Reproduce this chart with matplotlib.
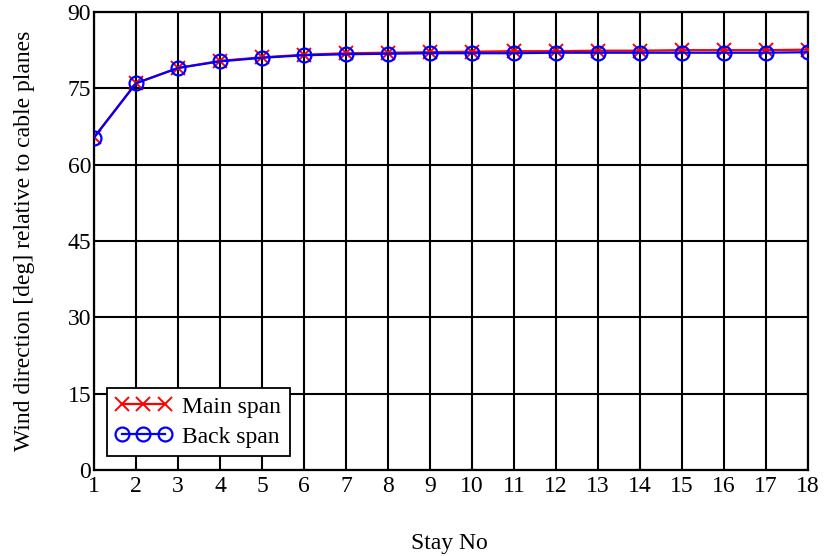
import matplotlib
matplotlib.use("Agg")
import matplotlib.pyplot as plt

stay_no = list(range(1, 19))
main_span = [65.4, 76.0, 79.0, 80.4, 81.1, 81.6, 81.9, 82.0, 82.1,
             82.2, 82.3, 82.3, 82.4, 82.4, 82.5, 82.5, 82.5, 82.6]
back_span = [65.3, 76.0, 79.0, 80.3, 81.0, 81.5, 81.7, 81.8, 81.9,
             81.9, 81.9, 82.0, 82.0, 82.0, 82.0, 82.0, 82.0, 82.1]
y_ticks = [0, 15, 30, 45, 60, 75, 90]

plt.rcParams['font.family'] = ['Liberation Serif', 'DejaVu Serif']

fig = plt.figure(figsize=(8.29, 5.56), dpi=100)
ax = fig.add_axes([0.1134, 0.1547, 0.8613, 0.8237])

ax.plot(stay_no, main_span, color='red', lw=1.6, marker='x', ms=10,
        mew=1.4, label='Main span', zorder=3)
ax.plot(stay_no, back_span, color='blue', lw=1.6, marker='o', ms=10,
        mfc='none', mew=1.6, label='Back span', zorder=4)

ax.set_xlim(1, 18)
ax.set_ylim(0, 90)
ax.set_xticks(stay_no)
ax.set_yticks(y_ticks)
ax.grid(True, color='black', lw=1.5)
ax.set_axisbelow(True)
for s in ax.spines.values():
    s.set_linewidth(1.6)
ax.tick_params(length=0, labelsize=17)
ax.tick_params(axis='x', pad=4)
ax.tick_params(axis='y', pad=2)

ax.set_xlabel('Stay No', fontsize=17)
ax.xaxis.set_label_coords(0.497, -0.138)
ax.set_ylabel('Wind direction [deg] relative to cable planes', fontsize=17)
ax.yaxis.set_label_coords(-0.083, 0.5)

leg = ax.legend(loc='lower left', bbox_to_anchor=(0.018, 0.031), numpoints=3,
                fontsize=17, fancybox=False, framealpha=1, edgecolor='black',
                handlelength=2.4, borderpad=0.35, labelspacing=0.35,
                handletextpad=0.45, borderaxespad=0.0)
leg.get_frame().set_linewidth(1.3)

fig.savefig('out.png', dpi=100)
